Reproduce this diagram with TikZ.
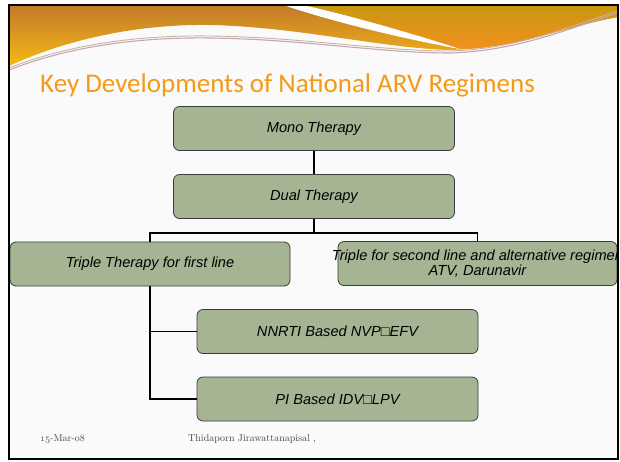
\documentclass[tikz,border=0pt]{standalone}
\usepackage{fontspec}
\setsansfont{Liberation Sans}
\newfontfamily\titlefont{Carlito}
\usetikzlibrary{calc}
\newcommand\osn[1]{{\usefont{OML}{cmm}{m}{it}#1}}
\definecolor{boxgreen}{HTML}{A5B594}
\definecolor{boxline}{HTML}{3C3C3C}
\definecolor{titleorange}{HTML}{F59A17}
\definecolor{footgray}{HTML}{45473A}
\definecolor{waveleftA}{HTML}{C27A2A}
\definecolor{waveleftB}{HTML}{F5BA15}
\definecolor{waverightA}{HTML}{C8980F}
\definecolor{waverightB}{HTML}{F2901F}
\definecolor{swooshpink}{HTML}{C9A3B6}
\definecolor{swooshtan}{HTML}{C2B89A}

\begin{document}
\begin{tikzpicture}[x=1pt,y=-1pt]
\tikzset{
    therapy/.style={draw=boxline, fill=boxgreen, rounded corners=6pt, line width=0.8pt,
        minimum width=281pt, minimum height=44pt, align=center,
        font=\sffamily\itshape\fontsize{14.6}{15}\selectfont, inner sep=0pt},
    link/.style={line width=1.6pt},
    foot/.style={font=\fontsize{10}{12}\selectfont, text=footgray, anchor=base west, inner sep=0pt},
}
\useasboundingbox (0,0) rectangle (620,461);
\fill[white] (0,0) rectangle (620,461);
\fill[black!2] (9,5) rectangle (618,459);

% header waves
\shade[top color=waveleftA, bottom color=waveleftB]
    (9,5) -- (618,5) -- (618,17)
    .. controls (570,25) and (520,48) .. (450,50)
    .. controls (380,48) and (300,27) .. (210,25)
    .. controls (140,24) and (70,38) .. (9,66) -- cycle;
\shade[top color=waverightA, bottom color=waverightB]
    (303,5) -- (618,5) -- (618,17)
    .. controls (570,25) and (520,48) .. (460,49)
    .. controls (420,36) and (360,18) .. (303,5) -- cycle;
\fill[white] (283,5) -- (303,5) .. controls (360,18) and (420,36) .. (460,49)
    .. controls (410,40) and (340,24) .. (283,5) -- cycle;
\draw[swooshpink, line width=1.1pt]
    (9,70) .. controls (70,46) and (140,37) .. (210,38)
    .. controls (300,39) and (380,53) .. (450,53)
    .. controls (520,51) and (575,26) .. (618,13);
\draw[swooshtan, line width=0.9pt]
    (9,68) .. controls (70,44) and (140,35) .. (210,36)
    .. controls (300,37) and (380,51) .. (450,51)
    .. controls (520,49) and (575,24) .. (618,11);

% title
\node[anchor=base west, inner sep=0pt, text=titleorange, font=\titlefont\fontsize{27}{30}\selectfont]
    (title) at (40,92) {Key Developments of National ARV Regimens};

\begin{scope}
\clip (9,5) rectangle (617,459);
\node[therapy] (mono) at (314,128.5) {Mono Therapy};
\node[therapy] (dual) at (314,196.5) {Dual Therapy};
\node[therapy, minimum width=280pt] (first) at (150,264) {Triple Therapy for first line};
\node[therapy, minimum width=279pt] (second) at (477.5,263.5)
    {\makebox[0pt]{Triple for second line and alternative regimen}\\ATV, Darunavir};
\node[therapy] (nnrti) at (337.5,331.5) {NNRTI Based NVP□EFV};
\node[therapy] (pi) at (337.5,399) {PI Based IDV□LPV};
\end{scope}

% connectors
\coordinate (split) at (314,233);
\draw[link] (mono.south) -- (dual.north);
\draw[link] (dual.south) -- (split);
\draw[link] (first.north) |- (split) -| (second.north);
\draw[link] (first.south) |- (nnrti.west);
\draw[link] (first.south) |- (pi.west);

% footer
\node[foot] (date) at (40,441) {\osn{15}-Mar-\osn{08}};
\node[foot] (author) at (188,441) {Thidaporn Jirawattanapisal ,};

\draw[line width=2pt] (9,5) rectangle (618,459);
\end{tikzpicture}
\end{document}
